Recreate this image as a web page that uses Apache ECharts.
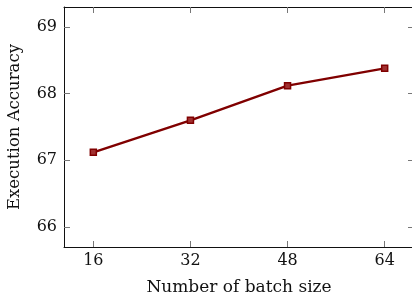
<!DOCTYPE html>
<html>
<head>
<meta charset="utf-8">
<script src="https://cdn.jsdelivr.net/npm/echarts@6/dist/echarts.min.js"></script>
<style>
html,body{margin:0;padding:0;background:#fff;}
#chart{width:412px;height:294px;}
</style>
</head>
<body>
<div id="chart"></div>
<script>
const batchSizes = [16, 32, 48, 64];
const accuracy = [67.12, 67.60, 68.12, 68.38];
const xTicks = [16, 32, 48, 64];
const yTicks = [66, 67, 68, 69];
const xLabel = 'Number of batch size';
const yLabel = 'Execution Accuracy';

const FONT = 'DejaVu Serif';
const xMin = 11.17, xMax = 68.83;
const yMin = 65.70, yMax = 69.30;

const chart = echarts.init(document.getElementById('chart'), null, {renderer: 'canvas'});
const tickStyle = {show: true, inside: true, length: 6, lineStyle: {color: '#777', width: 1}};
chart.setOption({
  animation: false,
  grid: {left: 64, top: 7, right: -2, height: 240, containLabel: false, outerBoundsMode: 'none'},
  xAxis: [{
    type: 'value', min: xMin, max: xMax, position: 'bottom',
    name: xLabel, nameLocation: 'middle', nameGap: 32,
    nameTextStyle: {fontFamily: FONT, fontSize: 17, color: '#111'},
    axisLine: {show: true, onZero: false, lineStyle: {color: '#111', width: 1}},
    axisTick: Object.assign({customValues: xTicks}, tickStyle),
    axisLabel: {customValues: xTicks, fontFamily: FONT, fontSize: 16, color: '#111', margin: 6},
    splitLine: {show: false}
  }, {
    type: 'value', min: xMin, max: xMax, position: 'top',
    axisLine: {show: true, onZero: false, lineStyle: {color: '#111', width: 1}},
    axisTick: Object.assign({customValues: xTicks}, tickStyle),
    axisLabel: {show: false},
    splitLine: {show: false}
  }],
  yAxis: [{
    type: 'value', min: yMin, max: yMax, position: 'left',
    name: yLabel, nameLocation: 'middle', nameGap: 41, nameRotate: 90,
    nameTextStyle: {fontFamily: FONT, fontSize: 16.5, color: '#111'},
    axisLine: {show: true, onZero: false, lineStyle: {color: '#111', width: 1}},
    axisTick: Object.assign({customValues: yTicks}, tickStyle),
    axisLabel: {customValues: yTicks, fontFamily: FONT, fontSize: 16, color: '#111', margin: 7},
    splitLine: {show: false}
  }, {
    type: 'value', min: yMin, max: yMax, position: 'right',
    axisLine: {show: false},
    axisTick: Object.assign({customValues: yTicks}, tickStyle),
    axisLabel: {show: false},
    splitLine: {show: false}
  }],
  series: [{
    type: 'line',
    data: batchSizes.map((b, i) => [b, accuracy[i]]),
    lineStyle: {color: '#800000', width: 2.4},
    symbol: 'rect', symbolSize: 6,
    itemStyle: {color: '#a03030', borderColor: '#800000', borderWidth: 1.5},
    z: 5
  }]
});
</script>
</body>
</html>
